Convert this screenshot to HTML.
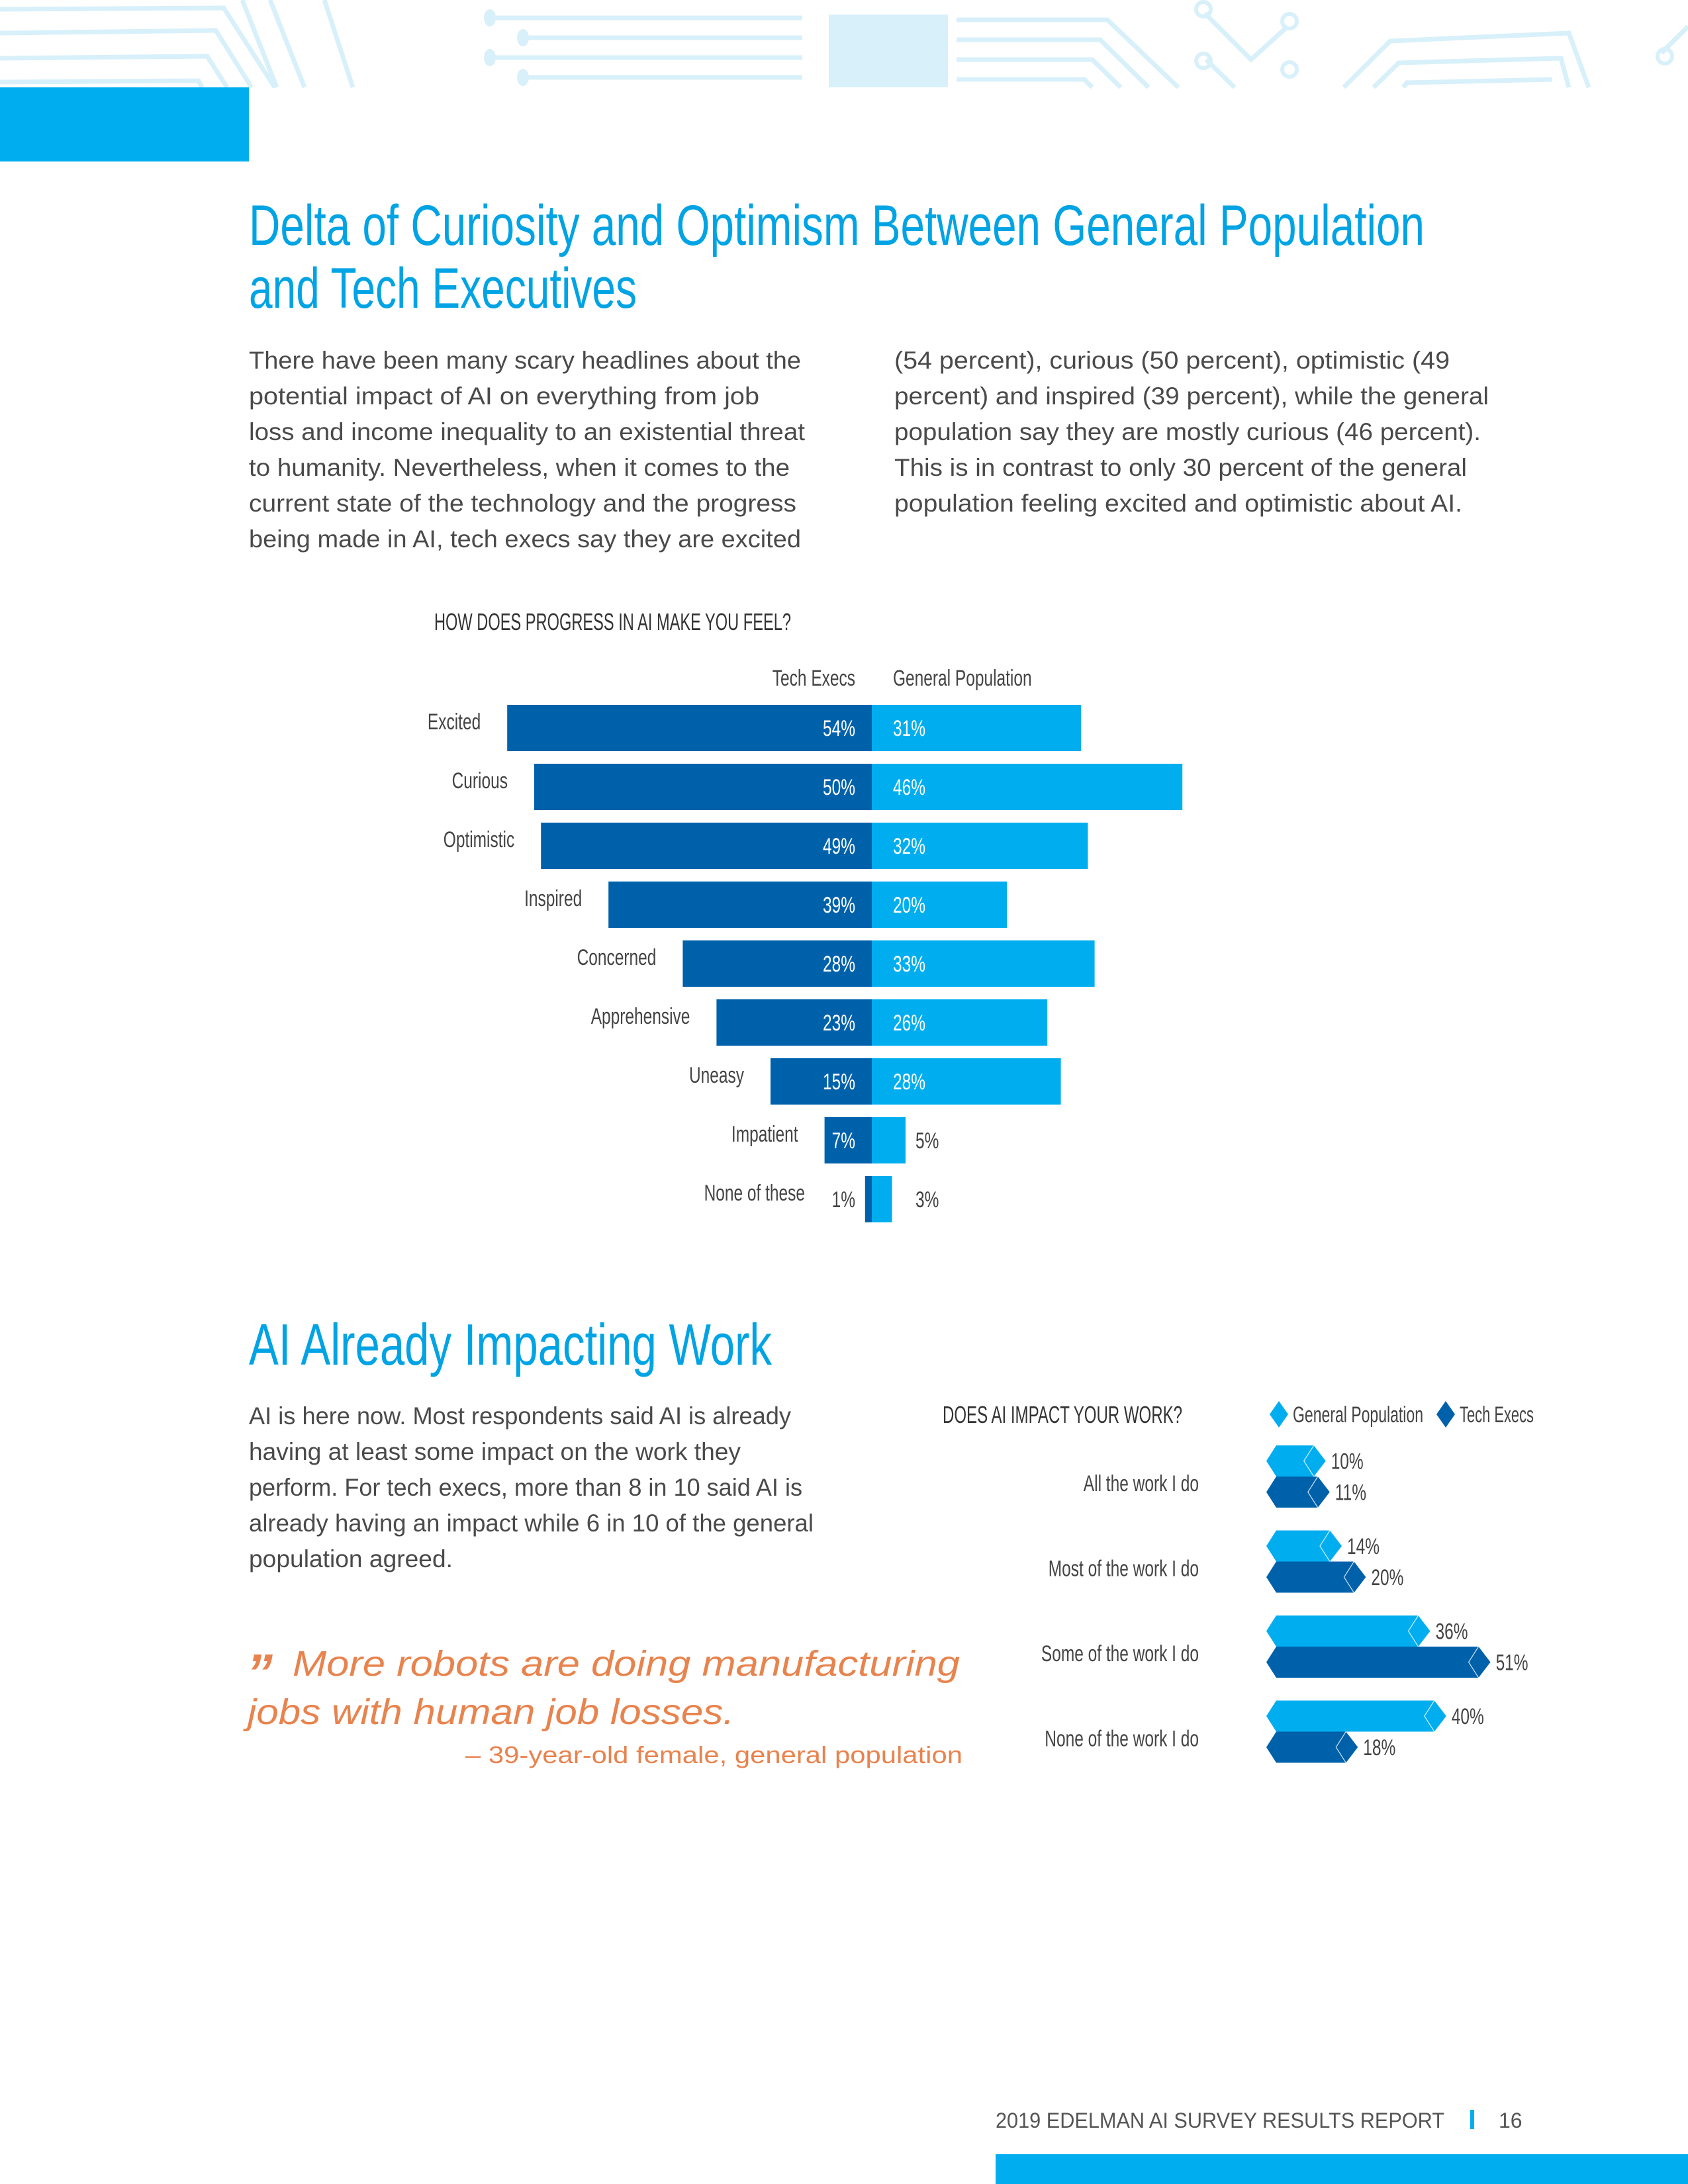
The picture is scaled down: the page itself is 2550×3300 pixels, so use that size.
<!DOCTYPE html>
<html><head><meta charset="utf-8"><style>
html,body{margin:0;padding:0;background:#fff;}
svg{display:block;}
.body{font-family:"Liberation Sans",sans-serif;font-size:37px;fill:#4a4a4a;}
.cond{font-family:"Liberation Sans Narrow","Liberation Sans",sans-serif;}
</style></head><body>
<svg id="page" width="2550" height="3300" viewBox="0 0 2550 3300" xmlns="http://www.w3.org/2000/svg">
<g fill="none" stroke="#d8f0fa" stroke-width="7">
  <polyline points="0,14 338,12 415,132"/>
  <polyline points="0,50 326,46 380,132"/>
  <polyline points="0,88 313,85 343,132"/>
  <polyline points="0,124 300,122 305,132"/>
  <line x1="366" y1="0" x2="418" y2="132"/>
  <line x1="408" y1="0" x2="460" y2="132"/>
  <line x1="490" y1="0" x2="533" y2="132"/>
  <line x1="740" y1="27" x2="1212" y2="27"/>
  <line x1="790" y1="57" x2="1212" y2="57"/>
  <line x1="740" y1="87" x2="1212" y2="87"/>
  <line x1="790" y1="117" x2="1212" y2="117"/>
  <polyline points="1445,30 1673,30 1780,132"/>
  <polyline points="1445,60 1662,60 1735,132"/>
  <polyline points="1445,90 1650,90 1693,132"/>
  <polyline points="1445,120 1638,120 1650,132"/>
  <polyline points="1820,20 1890,90 1945,40"/>
  <polyline points="1822,90 1865,132"/>
  <polyline points="2030,132 2100,62 2370,50 2400,132"/>
  <polyline points="2075,132 2113,95 2358,88 2370,132"/>
  <polyline points="2120,132 2125,125 2345,120"/>
  <polyline points="2510,80 2550,40"/>
</g>
<g fill="#d8f0fa">
  <ellipse cx="740" cy="27" rx="9" ry="13"/><ellipse cx="790" cy="57" rx="9" ry="13"/>
  <ellipse cx="740" cy="87" rx="9" ry="13"/><ellipse cx="790" cy="117" rx="9" ry="13"/>
  <rect x="1252" y="22" width="180" height="110"/>
  <circle cx="1818" cy="14" r="11" fill="none" stroke="#d8f0fa" stroke-width="6"/>
  <circle cx="1948" cy="32" r="11" fill="none" stroke="#d8f0fa" stroke-width="6"/>
  <circle cx="1818" cy="92" r="11" fill="none" stroke="#d8f0fa" stroke-width="6"/>
  <circle cx="1948" cy="105" r="11" fill="none" stroke="#d8f0fa" stroke-width="6"/>
  <circle cx="2515" cy="85" r="11" fill="none" stroke="#d8f0fa" stroke-width="6"/>
</g>
<rect x="0" y="132" width="376" height="112" fill="#00aeef"/>

<g class="cond" font-size="86" fill="#00a3e4">
  <text x="376" y="370" textLength="1776" lengthAdjust="spacingAndGlyphs">Delta of Curiosity and Optimism Between General Population</text>
  <text x="376" y="465" textLength="586" lengthAdjust="spacingAndGlyphs">and Tech Executives</text>
</g>
<g class="body">
  <text x="376" y="557" textLength="834" lengthAdjust="spacingAndGlyphs">There have been many scary headlines about the</text>
  <text x="376" y="611" textLength="771" lengthAdjust="spacingAndGlyphs">potential impact of AI on everything from job</text>
  <text x="376" y="665" textLength="840" lengthAdjust="spacingAndGlyphs">loss and income inequality to an existential threat</text>
  <text x="376" y="719" textLength="817" lengthAdjust="spacingAndGlyphs">to humanity. Nevertheless, when it comes to the</text>
  <text x="376" y="773" textLength="827" lengthAdjust="spacingAndGlyphs">current state of the technology and the progress</text>
  <text x="376" y="827" textLength="834" lengthAdjust="spacingAndGlyphs">being made in AI, tech execs say they are excited</text>
  <text x="1351" y="557" textLength="839" lengthAdjust="spacingAndGlyphs">(54 percent), curious (50 percent), optimistic (49</text>
  <text x="1351" y="611" textLength="898" lengthAdjust="spacingAndGlyphs">percent) and inspired (39 percent), while the general</text>
  <text x="1351" y="665" textLength="886" lengthAdjust="spacingAndGlyphs">population say they are mostly curious (46 percent).</text>
  <text x="1351" y="719" textLength="865" lengthAdjust="spacingAndGlyphs">This is in contrast to only 30 percent of the general</text>
  <text x="1351" y="773" textLength="858" lengthAdjust="spacingAndGlyphs">population feeling excited and optimistic about AI.</text>
</g>

<g id="chart1">
  <text class="cond" x="656" y="952" font-size="36" fill="#333" textLength="539" lengthAdjust="spacingAndGlyphs">HOW DOES PROGRESS IN AI MAKE YOU FEEL?</text>
  <text class="cond sq" x="1292" y="1036" font-size="34" fill="#444" text-anchor="end">Tech Execs</text>
  <text class="cond sq" x="1349" y="1036" font-size="34" fill="#444">General Population</text>
</g>

<g>
  <text class="cond" x="376" y="2062" font-size="88" fill="#00a3e4" textLength="790" lengthAdjust="spacingAndGlyphs">AI Already Impacting Work</text>
</g>
<g class="body">
  <text x="376" y="2152" textLength="819" lengthAdjust="spacingAndGlyphs">AI is here now. Most respondents said AI is already</text>
  <text x="376" y="2206" textLength="743" lengthAdjust="spacingAndGlyphs">having at least some impact on the work they</text>
  <text x="376" y="2260" textLength="836" lengthAdjust="spacingAndGlyphs">perform. For tech execs, more than 8 in 10 said AI is</text>
  <text x="376" y="2314" textLength="853" lengthAdjust="spacingAndGlyphs">already having an impact while 6 in 10 of the general</text>
  <text x="376" y="2368" textLength="308" lengthAdjust="spacingAndGlyphs">population agreed.</text>
</g>
<g fill="#e8834e" font-family="Liberation Sans, sans-serif">
  <text x="372" y="2555" font-size="80" font-weight="bold" font-style="italic">”</text>
  <text x="442" y="2532" font-size="54" font-style="italic" textLength="1008" lengthAdjust="spacingAndGlyphs">More robots are doing manufacturing</text>
  <text x="374" y="2605" font-size="54" font-style="italic" textLength="735" lengthAdjust="spacingAndGlyphs">jobs with human job losses.</text>
  <text x="703" y="2664" font-size="36" textLength="751" lengthAdjust="spacingAndGlyphs">– 39-year-old female, general population</text>
</g>

<g id="chart2">
  <text class="cond" x="1424" y="2150" font-size="36" fill="#333" textLength="362" lengthAdjust="spacingAndGlyphs">DOES AI IMPACT YOUR WORK?</text>
  <g>
    <polygon points="1932,2117 1946,2137 1932,2157 1918,2137" fill="#00aeef"/>
    <text class="cond" x="1953" y="2149" font-size="34" fill="#444" textLength="197" lengthAdjust="spacingAndGlyphs">General Population</text>
  </g>
  <g>
    <polygon points="2184,2117 2198,2137 2184,2157 2170,2137" fill="#0061ab"/>
    <text class="cond" x="2205" y="2149" font-size="34" fill="#444" textLength="112" lengthAdjust="spacingAndGlyphs">Tech Execs</text>
  </g>
</g>

<g>
  <text x="1504" y="3215" font-family="Liberation Sans, sans-serif" font-size="32" fill="#555" textLength="678" lengthAdjust="spacingAndGlyphs">2019 EDELMAN AI SURVEY RESULTS REPORT</text>
  <rect x="2221" y="3188" width="6" height="29" fill="#00aeef"/>
  <text x="2264" y="3215" font-family="Liberation Sans, sans-serif" font-size="32" fill="#555">16</text>
  <rect x="1504" y="3255" width="1046" height="45" fill="#00aeef"/>
</g>
</svg>
<script>
// ---- Chart 1 data ----
const feelCategories = ["Excited","Curious","Optimistic","Inspired","Concerned","Apprehensive","Uneasy","Impatient","None of these"];
const feelTechExecs = [54,50,49,39,28,23,15,7,1];
const feelGenPop = [31,46,32,20,33,26,28,5,3];
// ---- Chart 2 data ----
const workCategories = ["All the work I do","Most of the work I do","Some of the work I do","None of the work I do"];
const workGenPop = [10,14,36,40];
const workTechExecs = [11,20,51,18];

const NS = "http://www.w3.org/2000/svg";
function mk(tag, attrs, parent){ const e=document.createElementNS(NS,tag); for(const k in attrs) e.setAttribute(k,attrs[k]); parent.appendChild(e); return e; }

// Chart 1 axes
const c1 = document.getElementById("chart1");
const c1Center = 1317, c1Scale = 10.2, c1Top = 1065, c1Step = 89, c1H = 70;
function c1x(v){ return v*c1Scale; }
function c1y(i){ return c1Top + i*c1Step; }
feelCategories.forEach((cat,i)=>{
  const y = c1y(i), te = feelTechExecs[i], gp = feelGenPop[i];
  const tw = c1x(te), gw = c1x(gp);
  const b1 = mk("rect",{x:c1Center-tw,y:y,width:tw,height:c1H,fill:"#0061ab"},c1);
  
  
  const b2 = mk("rect",{x:c1Center,y:y,width:gw,height:c1H,fill:"#00aeef"},c1);
  
  
  const lab = mk("text",{x:Math.min(c1Center-tw-40,1216),y:y+c1H/2+2,"font-size":34,fill:"#444","text-anchor":"end","class":"cond sq"},c1);
  lab.textContent = cat;
  
  
  const tl = mk("text",{x:1292,y:y+c1H/2+12,"font-size":34,fill: tw>60?"#fff":"#444","text-anchor":"end","class":"cond sq"},c1);
  tl.textContent = te+"%";
  
  
  const inside = gw > 70;
  const gl = mk("text",{x: inside?1349:Math.max(c1Center+gw+15,1383),y:y+c1H/2+12,"font-size":34,fill: inside?"#fff":"#444","class":"cond sq"},c1);
  gl.textContent = gp+"%";
  
  
});

// Chart 2 axes
const c2 = document.getElementById("chart2");
const c2Left = 1913, c2Zero = 1942, c2Scale = 6.07, c2Top = 2184, c2Step = 128.5, c2H = 47;
function c2x(v){ return c2Zero + v*c2Scale; }
function c2y(i){ return c2Top + i*c2Step; }
function hexBar(y, v, color, name){
  const tip = c2x(v), m = y + c2H/2, b = y + c2H;
  const p = mk("polygon",{points:`${c2Left},${m} ${c2Left+15},${y} ${tip-18},${y} ${tip},${m} ${tip-18},${b} ${c2Left+15},${b}`,fill:color},c2);
  
  
  mk("polyline",{points:`${tip-18},${y} ${tip-33},${m} ${tip-18},${b}`,fill:"none",stroke:"#fff","stroke-width":1.2,opacity:0.8},c2);
  const t = mk("text",{x:tip+8,y:m+12,"font-size":34,fill:"#444","class":"cond sq"},c2);
  t.textContent = v+"%";
  
  
}
workCategories.forEach((cat,i)=>{
  const y = c2y(i);
  hexBar(y, workGenPop[i], "#00aeef", "bar-general-population-"+i);
  hexBar(y+c2H, workTechExecs[i], "#0061ab", "bar-tech-execs-"+i);
  const l = mk("text",{x:1811,y:y+69,"font-size":34,fill:"#444","text-anchor":"end","class":"cond sq"},c2);
  l.textContent = cat;
  
  
});

// condense labels (narrow font substitute)
document.querySelectorAll("text.sq").forEach(t=>{
  const w = t.getComputedTextLength();
  t.setAttribute("textLength", (w*0.72).toFixed(1));
  t.setAttribute("lengthAdjust", "spacingAndGlyphs");
});
</script>
</body></html>
